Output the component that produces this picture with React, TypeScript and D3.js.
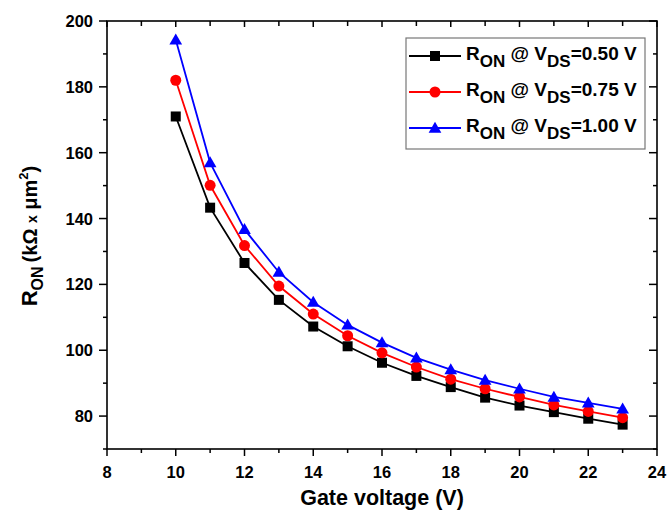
import React from "react";
import * as d3 from "d3";

const gateVoltage = [10, 11, 12, 13, 14, 15, 16, 17, 18, 19, 20, 21, 22, 23];
const ron050 = [171.0, 143.3, 126.5, 115.3, 107.2, 101.2, 96.2, 92.2, 88.8, 85.6, 83.2, 81.2, 79.2, 77.4];
const ron075 = [182.0, 150.1, 131.8, 119.5, 111.0, 104.4, 99.2, 94.9, 91.2, 88.3, 85.8, 83.4, 81.4, 79.5];
const ron100 = [194.3, 157.0, 136.7, 123.7, 114.6, 107.7, 102.3, 97.7, 94.1, 90.9, 88.3, 85.8, 84.0, 82.2];
const seriesNames = ["0.50", "0.75", "1.00"];
const xTicks = [8, 10, 12, 14, 16, 18, 20, 22, 24];
const yTicks = [80, 100, 120, 140, 160, 180, 200];

const W = 670, H = 518;
const L = 107, R = 657, T = 21, B = 449;
const FONT = "'Liberation Sans', Arial, Helvetica, sans-serif";

export default function App() {
  const x = d3.scaleLinear().domain([8, 24]).range([L, R]);
  const y = d3.scaleLinear().domain([70, 200]).range([B, T]);
  const line = d3.line<number>().x((_, i) => x(gateVoltage[i])).y((d) => y(d));
  const series = [
    { vals: ron050, color: "#000000", shape: "square" },
    { vals: ron075, color: "#ff0000", shape: "circle" },
    { vals: ron100, color: "#0000ff", shape: "triangle" },
  ];
  const marker = (shape: string, cx: number, cy: number, color: string, key: string) => {
    if (shape === "square") return <rect key={key} x={cx - 5} y={cy - 5} width={10} height={10} fill={color} />;
    if (shape === "circle") return <circle key={key} cx={cx} cy={cy} r={5.5} fill={color} />;
    const p = d3.symbol().type(d3.symbolTriangle).size(70)();
    return <path key={key} d={p || ""} transform={`translate(${cx},${cy + 1})`} fill={color} />;
  };
  const xMinor = d3.range(8, 25, 1);
  const yMinor = d3.range(70, 201, 10);
  return (
    <svg width={W} height={H} style={{ position: "absolute", left: 0, top: 0, background: "#fff" }} fontFamily={FONT}>
      <rect x={0} y={0} width={W} height={H} fill="#fff" />
      {xMinor.map((v) => {
        const major = v % 2 === 0;
        return (
          <g key={"xt" + v} stroke="#000" strokeWidth={1.5}>
            <line x1={x(v)} x2={x(v)} y1={B} y2={B + (major ? 7 : 4)} />
            <line x1={x(v)} x2={x(v)} y1={T} y2={T + (major ? 6 : 5)} />
          </g>
        );
      })}
      {yMinor.map((v) => {
        const major = v % 20 === 0;
        return (
          <g key={"yt" + v} stroke="#000" strokeWidth={1.5}>
            <line x1={L} x2={L - (major ? 8 : 4)} y1={y(v)} y2={y(v)} />
            <line x1={R} x2={R - (major ? 8 : 4)} y1={y(v)} y2={y(v)} />
          </g>
        );
      })}
      <rect x={L} y={T} width={R - L} height={B - T} fill="none" stroke="#000" strokeWidth={1.6} />
      {xTicks.map((v) => (
        <text key={"xl" + v} x={x(v)} y={478} textAnchor="middle" fontSize={16.5} fontWeight="bold">{v}</text>
      ))}
      {yTicks.map((v) => (
        <text key={"yl" + v} x={93} y={y(v) + 6} textAnchor="end" fontSize={16.5} fontWeight="bold">{v}</text>
      ))}
      <text x={382} y={505} textAnchor="middle" fontSize={21.5} fontWeight="bold">Gate voltage (V)</text>
      <text transform="translate(37,236) rotate(-90)" textAnchor="middle" fontWeight="bold" fontSize={22}>
        R<tspan fontSize={16} dy={6}>ON</tspan>
        <tspan dy={-6} dx={4} fontSize={20}>(kΩ </tspan>
        <tspan fontSize={14}>x</tspan>
        <tspan fontSize={20}> μm</tspan>
        <tspan fontSize={13} dy={-9}>2</tspan>
        <tspan fontSize={20} dy={9}>)</tspan>
      </text>
      {series.map((s, si) => (
        <g key={"s" + si}>
          <path d={line(s.vals) || ""} fill="none" stroke={s.color} strokeWidth={1.8} />
          {s.vals.map((v, i) => marker(s.shape, x(gateVoltage[i]), y(v), s.color, "m" + si + "-" + i))}
        </g>
      ))}
      <rect x={406} y={38} width={239} height={111} fill="#fff" stroke="#777" strokeWidth={1.2} />
      {series.map((s, si) => {
        const cy = 56 + si * 36;
        return (
          <g key={"lg" + si}>
            <line x1={409} x2={461} y1={cy} y2={cy} stroke={s.color} strokeWidth={1.8} />
            {marker(s.shape, 435, cy, s.color, "lm" + si)}
            <text x={466} y={cy + 4} fontSize={19} fontWeight="bold">
              R<tspan fontSize={17} dy={7}>ON</tspan>
              <tspan dy={-7}> @ V</tspan>
              <tspan fontSize={17} dy={7}>DS</tspan>
              <tspan dy={-7}>={seriesNames[si]} V</tspan>
            </text>
          </g>
        );
      })}
    </svg>
  );
}
